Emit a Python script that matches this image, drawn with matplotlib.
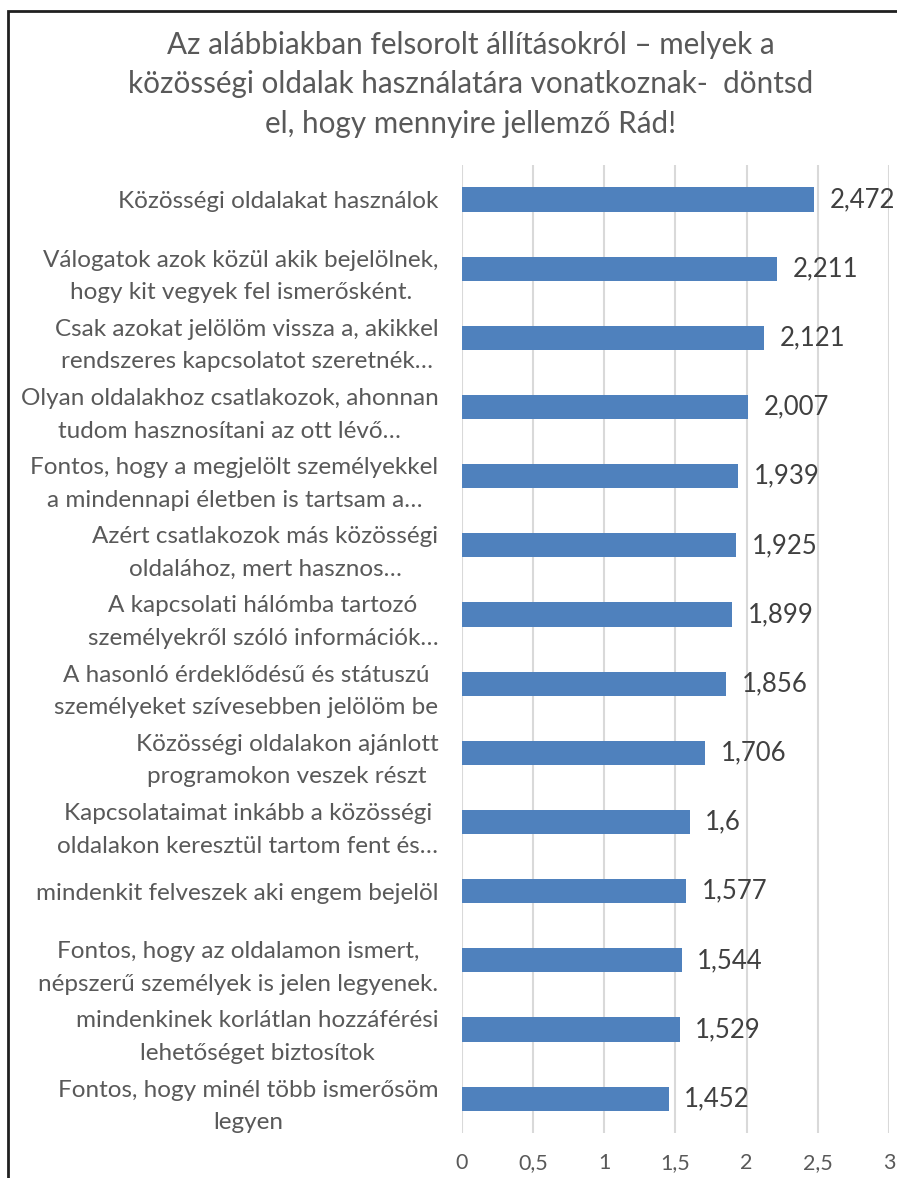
import matplotlib.pyplot as plt
from matplotlib.patches import Rectangle

plt.rcParams['font.family'] = ['Lato', 'DejaVu Sans']

title = ("Az alábbiakban felsorolt állításokról – melyek a\n"
         "közösségi oldalak használatára vonatkoznak-  döntsd\n"
         "el, hogy mennyire jellemző Rád!")

categories = [
    "Közösségi oldalakat használok",
    "Válogatok azok közül akik bejelölnek,\nhogy kit vegyek fel ismerősként.",
    "Csak azokat jelölöm vissza a, akikkel\nrendszeres kapcsolatot szeretnék…",
    "Olyan oldalakhoz csatlakozok, ahonnan\ntudom hasznosítani az ott lévő…",
    "Fontos, hogy a megjelölt személyekkel\na mindennapi életben is tartsam a…",
    "Azért csatlakozok más közösségi\noldalához, mert hasznos…",
    "A kapcsolati hálómba tartozó\nszemélyekről szóló információk…",
    "A hasonló érdeklődésű és státuszú\nszemélyeket szívesebben jelölöm be",
    "Közösségi oldalakon ajánlott\nprogramokon veszek részt",
    "Kapcsolataimat inkább a közösségi\noldalakon keresztül tartom fent és…",
    "mindenkit felveszek aki engem bejelöl",
    "Fontos, hogy az oldalamon ismert,\nnépszerű személyek is jelen legyenek.",
    "mindenkinek korlátlan hozzáférési\nlehetőséget biztosítok",
    "Fontos, hogy minél több ismerősöm\nlegyen",
]
values = [2.472, 2.211, 2.121, 2.007, 1.939, 1.925, 1.899,
          1.856, 1.706, 1.6, 1.577, 1.544, 1.529, 1.452]
xticks = [0, 0.5, 1, 1.5, 2, 2.5, 3]
xtick_labels = ["0", "0,5", "1", "1,5", "2", "2,5", "3"]

fig = plt.figure(figsize=(8.97, 11.78), dpi=100)
ax = fig.add_axes([0.515, 0.038, 0.476, 0.822])

# outer chart frame (right and bottom edges fall outside the picture)
fig.patches.append(Rectangle((0.009, -0.05), 1.1, 1.041, transform=fig.transFigure,
                             fill=False, edgecolor='#202020', linewidth=2))

pos = list(range(len(values)))
ax.barh(pos, values, height=0.35, color='#4F81BD', zorder=3)

for y, v in zip(pos, values):
    ax.text(v + 0.11, y, str(v).replace('.', ','), va='center', ha='left',
            fontsize=18.5, color='#404040')

ax.set_xlim(0, 3)
ax.set_ylim(len(values) - 0.5, -0.5)
ax.set_xticks(xticks)
ax.set_xticklabels(xtick_labels, fontsize=15.5, color='#595959')
ax.set_yticks(pos)
ax.set_yticklabels(categories, fontsize=17.5, color='#595959',
                   multialignment='center', linespacing=1.68)
ax.tick_params(axis='both', length=0)
ax.tick_params(axis='y', pad=17)
ax.tick_params(axis='x', pad=14)
ax.grid(axis='x', color='#D9D9D9', linewidth=1.5, zorder=0)
for s in ax.spines.values():
    s.set_visible(False)

fig.text(0.525, 0.974, title, ha='center', va='top', fontsize=21.3,
         color='#595959', linespacing=1.5)

fig.savefig('out.png', dpi=100)
